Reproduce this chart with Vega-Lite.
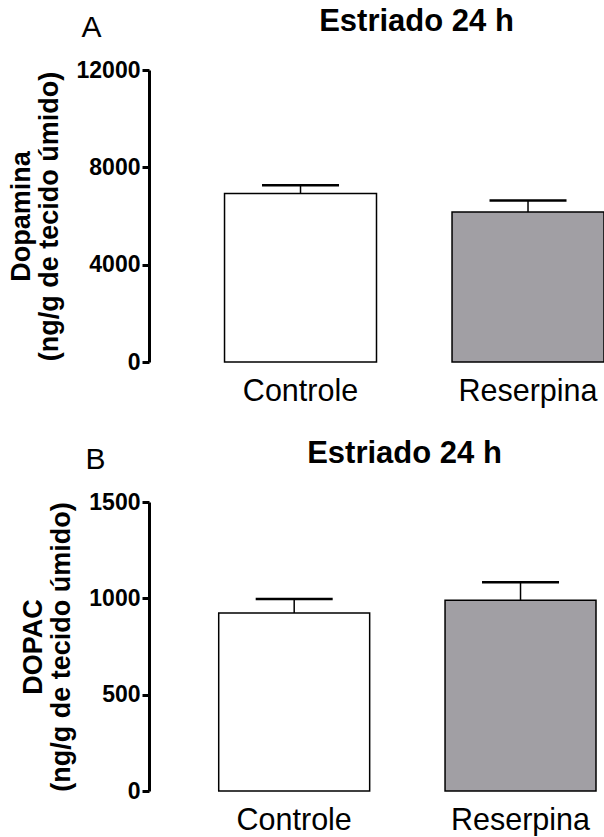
{
  "$schema": "https://vega.github.io/schema/vega-lite/v6.json",
  "padding": {"left": 7, "top": 6, "right": 0, "bottom": 0},
  "background": "white",
  "config": {
    "font": "Liberation Sans",
    "view": {"stroke": null},
    "axisX": {"labelColor": "black", "labelFontSize": 30.5, "labelAngle": 0, "labelPadding": 14, "ticks": false, "domain": false, "grid": false, "labelFontWeight": "normal"},
    "title": {"fontSize": 31, "fontWeight": "bold", "color": "black"}
  },
  "datasets": {
    "dopamina": [
      {"grupo": "Controle", "media": 6920, "sup": 7260},
      {"grupo": "Reserpina", "media": 6160, "sup": 6640}
    ],
    "dopac": [
      {"grupo": "Controle", "media": 924, "sup": 997},
      {"grupo": "Reserpina", "media": 990, "sup": 1084}
    ]
  },
  "bounds": "flush",
  "spacing": 140,
  "vconcat": [
    {
      "width": 455, "height": 292,
      "data": {"name": "dopamina"},
      "title": {"text": "Estriado 24 h", "dx": 40, "offset": -26},
      "layer": [
        {
          "mark": {"type": "bar", "stroke": "black", "strokeWidth": 1.5},
          "encoding": {
            "x": {"field": "grupo", "type": "nominal", "sort": null,
              "scale": {"paddingInner": 0.332, "paddingOuter": 0.166, "align": 1},
              "axis": {"title": null}},
            "y": {"field": "media", "type": "quantitative", "scale": {"domain": [0, 12000], "nice": false},
              "axis": {"values": [0, 4000, 8000, 12000], "format": "d", "grid": false,
                "domainColor": "black", "domainWidth": 3, "tickColor": "black", "tickWidth": 3, "tickSize": 7,
                "labelFontSize": 23, "labelFontWeight": "bold", "labelColor": "black", "labelPadding": 2,
                "titleFontSize": 27, "titleFontWeight": "bold", "titleColor": "black", "titleLineHeight": 28, "titlePadding": 13,
                "title": ["Dopamina", "(ng/g de tecido úmido)"]}},
            "fill": {"field": "grupo", "type": "nominal", "scale": {"domain": ["Controle", "Reserpina"], "range": ["white", "#a19fa4"]}, "legend": null}
          }
        },
        {
          "mark": {"type": "rule", "strokeWidth": 1.5, "color": "black"},
          "encoding": {
            "x": {"field": "grupo", "type": "nominal", "sort": null,
              "axis": {"orient": "top", "labels": false, "ticks": false, "domain": false, "title": "A", "titleFontWeight": "normal", "titleFontSize": 30, "titleAlign": "left", "titleAnchor": "start", "titleX": -68, "titleY": -34, "titleBaseline": "alphabetic", "titleColor": "black"}},
            "y": {"field": "media", "type": "quantitative", "title": ["Dopamina", "(ng/g de tecido úmido)"]},
            "y2": {"field": "sup"}
          }
        },
        {
          "mark": {"type": "tick", "thickness": 2.5, "size": 77, "color": "black", "opacity": 1},
          "encoding": {
            "x": {"field": "grupo", "type": "nominal", "sort": null, "axis": null},
            "y": {"field": "sup", "type": "quantitative", "title": ["Dopamina", "(ng/g de tecido úmido)"]}
          }
        }
      ],
      "resolve": {"axis": {"x": "independent"}}
    },
    {
      "width": 447, "height": 289,
      "data": {"name": "dopac"},
      "title": {"text": "Estriado 24 h", "dx": 32, "offset": -26},
      "layer": [
        {
          "mark": {"type": "bar", "stroke": "black", "strokeWidth": 1.5},
          "encoding": {
            "x": {"field": "grupo", "type": "nominal", "sort": null,
              "scale": {"paddingInner": 0.333, "paddingOuter": 0.154, "align": 1},
              "axis": {"title": null}},
            "y": {"field": "media", "type": "quantitative", "scale": {"domain": [0, 1500], "nice": false},
              "axis": {"values": [0, 500, 1000, 1500], "format": "d", "grid": false,
                "domainColor": "black", "domainWidth": 3, "tickColor": "black", "tickWidth": 3, "tickSize": 7,
                "labelFontSize": 23, "labelFontWeight": "bold", "labelColor": "black", "labelPadding": 2,
                "titleFontSize": 27, "titleFontWeight": "bold", "titleColor": "black", "titleLineHeight": 28, "titlePadding": 13,
                "title": ["DOPAC", "(ng/g de tecido úmido)"]}},
            "fill": {"field": "grupo", "type": "nominal", "scale": {"domain": ["Controle", "Reserpina"], "range": ["white", "#a19fa4"]}, "legend": null}
          }
        },
        {
          "mark": {"type": "rule", "strokeWidth": 1.5, "color": "black"},
          "encoding": {
            "x": {"field": "grupo", "type": "nominal", "sort": null,
              "axis": {"orient": "top", "labels": false, "ticks": false, "domain": false, "title": "B", "titleFontWeight": "normal", "titleFontSize": 30, "titleAlign": "left", "titleAnchor": "start", "titleX": -64, "titleY": -34, "titleBaseline": "alphabetic", "titleColor": "black"}},
            "y": {"field": "media", "type": "quantitative", "title": ["DOPAC", "(ng/g de tecido úmido)"]},
            "y2": {"field": "sup"}
          }
        },
        {
          "mark": {"type": "tick", "thickness": 2.5, "size": 77, "color": "black", "opacity": 1},
          "encoding": {
            "x": {"field": "grupo", "type": "nominal", "sort": null, "axis": null},
            "y": {"field": "sup", "type": "quantitative", "title": ["DOPAC", "(ng/g de tecido úmido)"]}
          }
        }
      ],
      "resolve": {"axis": {"x": "independent"}}
    }
  ]
}
